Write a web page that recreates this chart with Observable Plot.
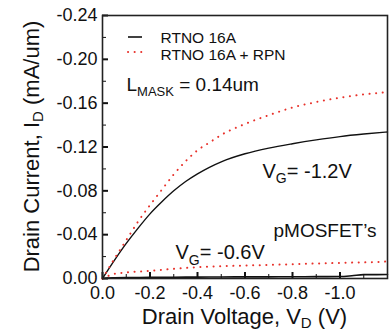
<!DOCTYPE html>
<html><head><meta charset="utf-8">
<script src="https://cdn.jsdelivr.net/npm/d3@7"></script>
<script src="https://cdn.jsdelivr.net/npm/@observablehq/plot@0.6"></script>
<style>body{margin:0;background:#fff}</style>
</head><body><div id="chart"></div>
<script>
// Drain voltage samples (V)
const vdHigh = [0,-0.05,-0.1,-0.15,-0.2,-0.25,-0.3,-0.35,-0.4,-0.45,-0.5,-0.6,-0.7,-0.8,-0.9,-1.0,-1.1,-1.2];
// VG = -1.2 V
const idRtnoHigh = [0,-0.0165,-0.032,-0.046,-0.059,-0.070,-0.080,-0.0885,-0.0955,-0.1015,-0.1065,-0.1138,-0.119,-0.123,-0.1265,-0.1295,-0.1318,-0.1337];
const idRpnHigh  = [0,-0.018,-0.035,-0.052,-0.067,-0.081,-0.095,-0.107,-0.117,-0.124,-0.131,-0.141,-0.149,-0.156,-0.161,-0.165,-0.168,-0.170];
// VG = -0.6 V
const vdLow = [0,-0.02,-0.05,-0.1,-0.2,-0.3,-0.4,-0.5,-0.6,-0.7,-0.8,-0.9,-1.0,-1.05,-1.1,-1.2];
const idRtnoLow = [0,-0.0004,-0.0006,-0.0008,-0.001,-0.0012,-0.0013,-0.0014,-0.0015,-0.0015,-0.0016,-0.0017,-0.0018,-0.0025,-0.0035,-0.0036];
const idRpnLow  = [0,-0.002,-0.0042,-0.0055,-0.007,-0.0088,-0.0103,-0.0112,-0.0118,-0.0124,-0.013,-0.0137,-0.0142,-0.0145,-0.0147,-0.0155];

const xMajor = [0,-0.2,-0.4,-0.6,-0.8,-1.0];
const xTickLabels = ["0.0","-0.2","-0.4","-0.6","-0.8","-1.0"];
const xMinor = [-0.1,-0.3,-0.5,-0.7,-0.9,-1.1];
const yMajor = [0,-0.04,-0.08,-0.12,-0.16,-0.20,-0.24];
const yTickLabels = ["0.00","-0.04","-0.08","-0.12","-0.16","-0.20","-0.24"];
const yMinor = [-0.02,-0.06,-0.10,-0.14,-0.18,-0.22];

const legendLabels = ["RTNO 16A","RTNO 16A + RPN"];
const xLabel = "Drain Voltage, V_{D} (V)";
const yLabel = "Drain Current, I_{D} (mA/um)";
const maskLabel = "L_{MASK} = 0.14um";
const vgHighLabel = "V_{G}= -1.2V";
const vgLowLabel = "V_{G}= -0.6V";
const deviceLabel = "pMOSFET’s";

const RED = "#e8312a";
const rows = (xs, ys) => xs.map((x, i) => ({vd: x, id: ys[i]}));
const font = "'Liberation Sans', Arial, Helvetica, sans-serif";

const txt = (s, dx, dy, size, opts = {}) => Plot.text([s], {
  text: d => d, frameAnchor: "top-left", dx, dy, fontSize: size,
  textAnchor: "start", lineAnchor: "bottom", fill: "#111", ...opts
});

const chart = Plot.plot({
  width: 389, height: 330,
  marginLeft: 102, marginRight: 2, marginTop: 15, marginBottom: 52,
  x: {domain: [0, -1.2]},
  y: {domain: [0, -0.24]},
  style: {fontFamily: font, background: "white", color: "#111"},
  marks: [
    Plot.line(rows(vdHigh, idRtnoHigh), {x: "vd", y: "id", stroke: "#111", strokeWidth: 1.4, curve: "monotone-x"}),
    Plot.line(rows(vdHigh, idRpnHigh), {x: "vd", y: "id", stroke: RED, strokeWidth: 2, strokeDasharray: "0.1,6.5", strokeLinecap: "round", curve: "monotone-x"}),
    Plot.line(rows(vdLow, idRtnoLow), {x: "vd", y: "id", stroke: "#111", strokeWidth: 1.6, curve: "monotone-x"}),
    Plot.line(rows(vdLow, idRpnLow), {x: "vd", y: "id", stroke: RED, strokeWidth: 2, strokeDasharray: "0.1,6.5", strokeLinecap: "round", curve: "monotone-x"}),
    Plot.axisX({ticks: xMinor, tickSize: -4, text: null, strokeWidth: 1, label: null}),
    Plot.axisX({ticks: xMajor, tickSize: -6, text: null, strokeWidth: 2, label: null}),
    Plot.axisX({ticks: xMajor, tickSize: 0, tickPadding: 8, fontSize: 18, tickFormat: (d, i) => xTickLabels[i], label: null}),
    Plot.axisY({ticks: yMinor, tickSize: -4, text: null, strokeWidth: 1, label: null}),
    Plot.axisY({ticks: yMajor, tickSize: -6, text: null, strokeWidth: 2, label: null}),
    Plot.axisY({ticks: yMajor, tickSize: 0, tickPadding: 5, fontSize: 18, tickFormat: (d, i) => yTickLabels[i], label: null}),
    Plot.frame({stroke: "#222", strokeWidth: 1.6}),
    txt(legendLabels[0], 58, 27.7, 15.5),
    txt(legendLabels[1], 58, 44.3, 15.5),
    txt(maskLabel, 24, 75, 19),
    txt(vgHighLabel, 160, 162, 20),
    txt(deviceLabel, 171, 221, 19),
    txt(vgLowLabel, 73, 243.5, 20),
    txt(xLabel, 142, 308, 22, {textAnchor: "middle"}),
    txt(yLabel, -64, 131, 22, {textAnchor: "middle", rotate: -90})
  ]
});

document.getElementById("chart").appendChild(chart);

// legend swatches
const svg = d3.select(chart);
svg.append("line").attr("x1", 128).attr("x2", 142).attr("y1", 37).attr("y2", 37)
  .attr("stroke", "#111").attr("stroke-width", 1.6);
svg.append("line").attr("x1", 128).attr("x2", 145).attr("y1", 52).attr("y2", 52)
  .attr("stroke", RED).attr("stroke-width", 2).attr("stroke-dasharray", "0.1,6.5").attr("stroke-linecap", "round");

// subscripts
chart.querySelectorAll("text").forEach(t => {
  const s = t.textContent;
  if (!s.includes("_{")) return;
  const fs = parseFloat(getComputedStyle(t).fontSize);
  const sub = Math.round(fs * 0.68);
  const shift = fs * (fs > 21 ? 0.22 : 0.28);
  t.textContent = "";
  let shifted = false;
  s.split(/(_\{[^}]*\})/).forEach(p => {
    if (!p) return;
    const ts = document.createElementNS("http://www.w3.org/2000/svg", "tspan");
    if (p.startsWith("_{")) {
      ts.textContent = p.slice(2, -1);
      ts.setAttribute("font-size", sub);
      ts.setAttribute("dy", shift);
      shifted = true;
    } else {
      ts.textContent = p;
      if (shifted) { ts.setAttribute("dy", -shift); shifted = false; }
    }
    t.appendChild(ts);
  });
});
</script>
</body></html>
